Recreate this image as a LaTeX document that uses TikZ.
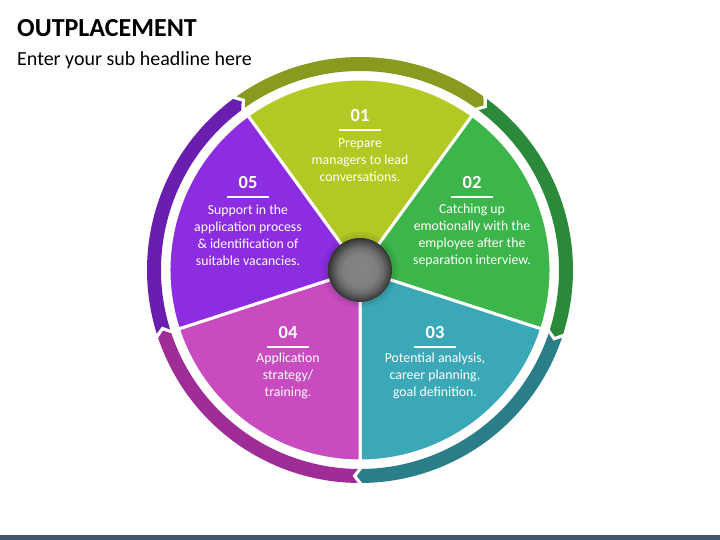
\documentclass[tikz,border=0pt]{standalone}
\usepackage{fontspec}
\setmainfont{Carlito}
\usepackage{xcolor}
\usetikzlibrary{positioning,calc}

\definecolor{wedgeA}{HTML}{B4C824}
\definecolor{bandA}{HTML}{8A9A1E}
\definecolor{wedgeB}{HTML}{3CB54A}
\definecolor{bandB}{HTML}{2B893A}
\definecolor{wedgeC}{HTML}{3BA8B8}
\definecolor{bandC}{HTML}{2A7E8A}
\definecolor{wedgeD}{HTML}{C84CC0}
\definecolor{bandD}{HTML}{A02C98}
\definecolor{wedgeE}{HTML}{8D2DE2}
\definecolor{bandE}{HTML}{6A1EB0}
\definecolor{barcol}{HTML}{44546A}

\pgfdeclareradialshading{knob}{\pgfpoint{0bp}{0bp}}{color(0bp)=(black!48); color(13bp)=(black!50); color(18bp)=(black!58); color(22bp)=(black!70); color(25bp)=(black!80); color(50bp)=(black!80)}

\begin{document}
\begin{tikzpicture}[x=1pt,y=1pt,
    num/.style={text=white, inner sep=0pt, font=\fontsize{18.5}{20}\selectfont\bfseries},
    desc/.style={text=white, inner sep=0pt, align=center, font=\fontsize{13.8}{17}\selectfont},
    rule/.style={white, line width=1.7pt}]
    \useasboundingbox (0,0) rectangle (720,540);

    % Title
    \node[anchor=base west, inner sep=0pt, font=\fontsize{26}{28}\selectfont\bfseries] (title) at (17,503) {OUTPLACEMENT};
    \node[anchor=base west, inner sep=0pt, font=\fontsize{20}{22}\selectfont] (subtitle) at (17,474) {Enter your sub headline here};
    \fill[barcol] (0,0) rectangle (720,5);

    % Wedges and outer arrows
    \begin{scope}[shift={(360,270)}]
    \foreach \a/\w/\b in {54/wedgeA/bandA, -18/wedgeB/bandB, -90/wedgeC/bandC, -162/wedgeD/bandD, 126/wedgeE/bandE}{
        \filldraw[fill=\w, draw=white, line width=3pt, line join=round]
            (0,0) -- (\a:191) arc[start angle=\a, end angle=\a+72, radius=191] -- cycle;
        \fill[\b] (\a+0.6:213) arc[start angle=\a+0.6, end angle=\a+71.4, radius=213]
            -- (\a+69.9:206) -- (\a+71.4:199)
            arc[start angle=\a+71.4, end angle=\a+0.6, radius=199]
            -- (\a-0.9:206) -- cycle;
    }
    % Knob
    \fill[black, opacity=0.05] (0,0) circle (38);
    \fill[black, opacity=0.05] (0,0) circle (35);
    \shade[shading=knob] (0,0) circle (32);
    \end{scope}

    % 01
    \node[num] (n1) at (360,424) {01};
    \draw[rule] ([shift={(-21,-8)}]n1.south) -- ([shift={(21,-8)}]n1.south);
    \node[desc] (t1) at (360,380) {Prepare\\managers to lead\\conversations.};

    % 02
    \node[num] (n2) at (472,357) {02};
    \draw[rule] ([shift={(-21,-8)}]n2.south) -- ([shift={(21,-8)}]n2.south);
    \node[desc] (t2) at (472,305) {Catching up\\emotionally with the\\employee after the\\separation interview.};

    % 03
    \node[num] (n3) at (435,207) {03};
    \draw[rule] ([shift={(-21,-8)}]n3.south) -- ([shift={(21,-8)}]n3.south);
    \node[desc] (t3) at (435,164) {Potential analysis,\\career planning,\\goal definition.};

    % 04
    \node[num] (n4) at (288,207) {04};
    \draw[rule] ([shift={(-21,-8)}]n4.south) -- ([shift={(21,-8)}]n4.south);
    \node[desc] (t4) at (288,164) {Application\\strategy/\\training.};

    % 05
    \node[num] (n5) at (248,357) {05};
    \draw[rule] ([shift={(-21,-8)}]n5.south) -- ([shift={(21,-8)}]n5.south);
    \node[desc] (t5) at (248,305) {Support in the\\application process\\\& identification of\\suitable vacancies.};
\end{tikzpicture}
\end{document}
